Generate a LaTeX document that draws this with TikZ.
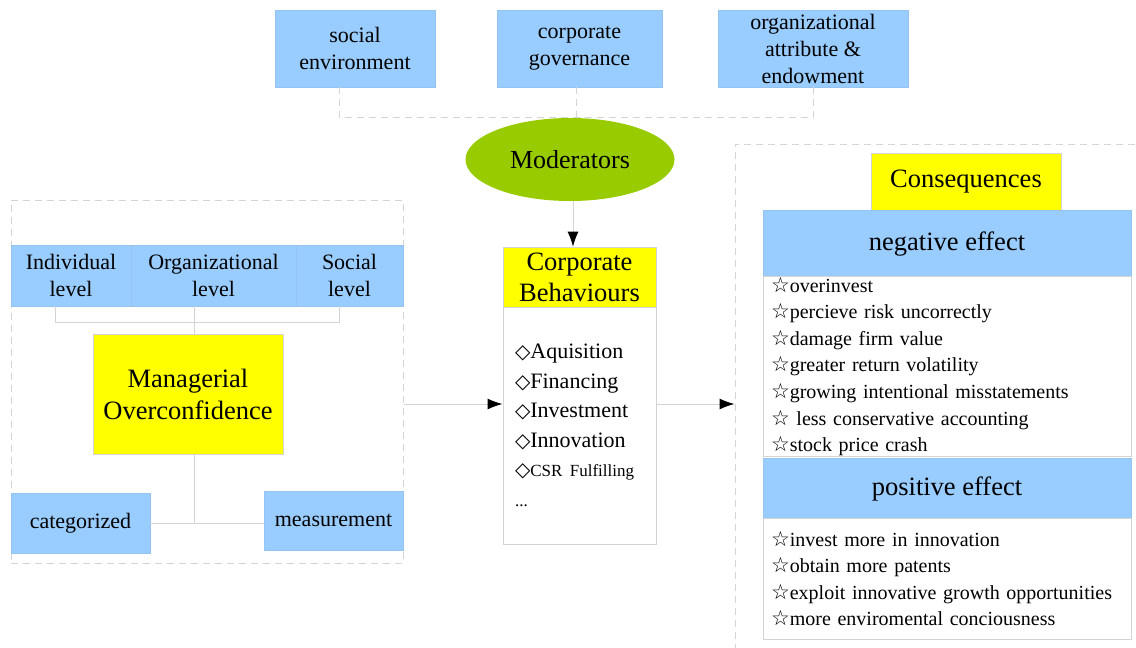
\documentclass[tikz,border=0pt]{standalone}
\usepackage{fontspec}
\setmainfont{Liberation Serif}
\newfontfamily\symfont{DejaVu Sans}
\usetikzlibrary{arrows.meta,shapes.geometric}
\definecolor{boxblue}{HTML}{99CCFF}
\definecolor{boxyellow}{HTML}{FFFF00}
\definecolor{modgreen}{HTML}{99CC00}
\definecolor{linegray}{HTML}{D4D4D4}
\newcommand{\starmark}{{\symfont\fontsize{21}{20}\selectfont ☆}}
\newcommand{\diamark}{{\symfont\fontsize{20}{20}\selectfont ◇}}
\begin{document}
\begin{tikzpicture}[x=1pt,y=-1pt,>={Latex[length=15pt,width=11pt,color=black]},
	bluebox/.style={rectangle,fill=boxblue,draw=boxblue!88!gray,line width=0.6pt,inner sep=0pt,align=center,font=\fontsize{22}{27}\selectfont},
	yellowbox/.style={rectangle,fill=boxyellow,draw=linegray,line width=0.6pt,inner sep=0pt,align=center,font=\fontsize{26.5}{31}\selectfont},
	listbox/.style={rectangle,fill=white,draw=linegray,line width=1pt,inner ysep=0pt,align=left},
	outer/.style={draw=linegray,dashed,dash pattern=on 7pt off 5pt,line width=1pt,inner sep=0pt},
	conn/.style={draw=linegray,line width=1pt}]
	\useasboundingbox (0,0) rectangle (1136,648);
	\clip (0,0) rectangle (1136,648);
	
	% keretek
	\node[outer,minimum width=392pt,minimum height=363pt] (mobox) at (207,381.5) {};
	\node[outer,minimum width=410pt,minimum height=516pt] (conbox) at (940,402) {};
	
	% moderatorok
	\node[bluebox,minimum width=160pt,minimum height=77pt] (soc) at (355,48.5) {social\\environment};
	\node[bluebox,minimum width=165pt,minimum height=77pt] (gov) at (579.5,48.5) {corporate\\governance};
	\node[bluebox,minimum width=190pt,minimum height=77pt] (attr) at (813,48.5) {organizational\\attribute \&\\endowment};
	\node[ellipse,fill=modgreen,minimum width=209pt,minimum height=83pt,inner sep=0pt,font=\fontsize{26}{31}\selectfont] (mod) at (570,159.5) {Moderators};
	
	\draw[conn,dashed,dash pattern=on 7pt off 5pt] ([xshift=-16pt]soc.south) |- (mod.north) -| (attr.south);
	\draw[conn,dashed,dash pattern=on 7pt off 5pt] ([xshift=-3pt]gov.south) -- ([xshift=-3pt]gov.south |- mod.north);
	
	% bal blokk
	\node[bluebox,minimum width=120pt,minimum height=61pt] (ind) at (71,275.5) {Individual\\level};
	\node[bluebox,minimum width=165pt,minimum height=61pt] (org) at (213.5,275.5) {Organizational\\level};
	\node[bluebox,minimum width=107pt,minimum height=61pt] (socl) at (349.5,275.5) {Social\\level};
	\node[yellowbox,minimum width=190pt,minimum height=120pt,font=\fontsize{26.5}{32}\selectfont] (mo) at (188,394) {Managerial\\Overconfidence};
	\node[bluebox,minimum width=139pt,minimum height=60pt] (cat) at (80.5,523) {categorized};
	\node[bluebox,minimum width=139pt,minimum height=59pt] (meas) at (333.5,520.5) {measurement};
	
	\draw[conn] ([xshift=-16pt]ind.south) -- ++(0,16) -| ([xshift=-10.5pt]socl.south);
	\draw[conn] ([xshift=6pt]mo.north) -- ([xshift=6pt]mo.north |- org.south);
	\draw[conn] ([xshift=6pt]mo.south) -- ([xshift=6pt]mo.south |- cat.east);
	\draw[conn] (cat.east) -- (cat.east -| meas.west);
	
	% vallalati viselkedes
	\node[yellowbox,minimum width=153pt,minimum height=60pt] (cbh) at (579.5,277) {Corporate\\Behaviours};
	\node[listbox,text width=129pt,inner xsep=12pt,minimum height=237pt,font=\fontsize{22}{29.5}\selectfont] (cbl) at (579.5,425.5)
		{\diamark Aquisition\\\diamark Financing\\\diamark Investment\\\diamark Innovation\\\diamark{\fontsize{17}{20}\selectfont CSR Fulfilling}\\{\fontsize{17}{20}\selectfont ...}};
	
	\draw[conn,->] ([xshift=3pt]mod.south) -- ([xshift=3pt]mod.south |- cbh.north);
	\draw[conn,->] ([yshift=-22.5pt]mobox.east) -- ([yshift=-22.5pt]mobox.east -| cbl.west);
	\draw[conn,->] ([yshift=21.5pt]cbl.east) -- ([yshift=21.5pt]cbl.east -| conbox.west);
	
	% kovetkezmenyek
	\node[yellowbox,minimum width=190pt,minimum height=57pt] (cons) at (966,182) {Consequences};
	\node[bluebox,minimum width=368pt,minimum height=67pt,font=\fontsize{26.5}{31}\selectfont] (neg) at (947,244) {negative effect};
	\node[listbox,text width=352pt,inner xsep=8pt,minimum height=177pt,font=\fontsize{20}{26.6}\selectfont] (negl) at (947,366.5)
		{\starmark overinvest\\\starmark percieve risk uncorrectly\\\starmark damage firm value\\\starmark greater return volatility\\\starmark growing intentional misstatements\\\starmark\ less conservative accounting\\\starmark stock price crash};
	\node[bluebox,minimum width=368pt,minimum height=61pt,font=\fontsize{26.5}{31}\selectfont] (pos) at (947,488.5) {positive effect};
	\node[listbox,text width=352pt,inner xsep=8pt,minimum height=121pt,font=\fontsize{20}{26.6}\selectfont] (posl) at (947,578.5)
		{\starmark invest more in innovation\\\starmark obtain more patents\\\starmark exploit innovative growth opportunities\\\starmark more enviromental conciousness};
\end{tikzpicture}
\end{document}
